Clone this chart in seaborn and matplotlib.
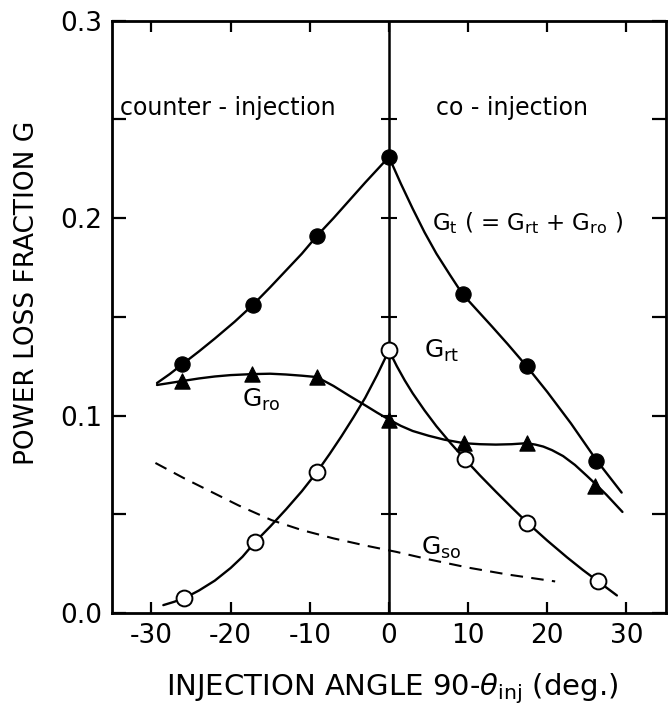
import matplotlib
matplotlib.use("Agg")
import matplotlib.pyplot as plt
import seaborn as sns

# ---- data ----
# measured points (markers)
gt_x = [-26.1, -17.2, -9.1, 0.0, 9.3, 17.4, 26.2]
gt_y = [0.126, 0.156, 0.191, 0.231, 0.1615, 0.125, 0.077]
gro_x = [-26.1, -17.3, -9.1, 0.0, 9.5, 17.4, 26.0]
gro_y = [0.1175, 0.121, 0.1195, 0.098, 0.086, 0.086, 0.0645]
grt_x = [-25.9, -16.9, -9.1, 0.0, 9.6, 17.5, 26.4]
grt_y = [0.0074, 0.036, 0.0714, 0.133, 0.078, 0.0456, 0.0162]

# hand-drawn curves (left / right branches)
gt_left_x = [-29.3, -27.7, -26.1, -24.0, -22.0, -19.5, -17.2, -15.0, -13.0,
             -11.0, -9.1, -7.0, -5.0, -3.0, -1.5, 0.0]
gt_left_y = [0.1165, 0.121, 0.126, 0.1325, 0.139, 0.1475, 0.156, 0.165,
             0.1735, 0.182, 0.191, 0.200, 0.209, 0.218, 0.2245, 0.231]
gt_right_x = [0.0, 1.5, 3.0, 4.5, 6.0, 7.7, 9.3, 11.0, 13.0, 15.0, 17.4,
              20.0, 23.0, 26.2, 29.4]
gt_right_y = [0.231, 0.2175, 0.2048, 0.1928, 0.182, 0.1713, 0.1615, 0.154,
              0.1452, 0.1362, 0.125, 0.112, 0.096, 0.0775, 0.061]
gro_curve_x = [-29.3, -28.0, -26.1, -24.0, -22.0, -20.0, -17.3, -15.0, -13.0,
               -11.0, -9.1, -7.0, -5.0, -3.0, -1.5, 0.0, 1.5, 3.0, 5.0, 7.0,
               9.5, 11.5, 13.5, 15.5, 17.4, 18.5, 19.5, 20.6, 22.0, 23.5,
               25.0, 26.0, 27.5, 29.5]
gro_curve_y = [0.1155, 0.1163, 0.1175, 0.1188, 0.1198, 0.1205, 0.121, 0.1212,
               0.1208, 0.1202, 0.1195, 0.1150, 0.1100, 0.1052, 0.1015, 0.098,
               0.0948, 0.0922, 0.0898, 0.0878, 0.086, 0.0855, 0.0853, 0.0855,
               0.086, 0.0853, 0.0843, 0.0825, 0.0795, 0.075, 0.0695, 0.0657,
               0.0598, 0.0512]
grt_left_x = [-28.5, -27.2, -25.9, -24.0, -22.0, -20.0, -18.5, -16.9, -15.0,
              -13.0, -11.0, -9.1, -7.5, -6.0, -4.5, -3.0, -1.5, 0.0]
grt_left_y = [0.004, 0.0056, 0.0074, 0.0114, 0.0164, 0.0228, 0.0285, 0.036,
              0.0438, 0.0525, 0.0617, 0.0714, 0.0805, 0.0895, 0.099, 0.109,
              0.1205, 0.133]
grt_right_x = [0.0, 1.0, 2.0, 3.0, 4.5, 6.0, 7.8, 9.6, 11.5, 13.5, 15.5, 17.5,
               20.0, 22.5, 24.5, 26.4, 28.8]
grt_right_y = [0.133, 0.125, 0.1178, 0.1113, 0.1026, 0.0946, 0.086, 0.0779,
               0.0697, 0.0615, 0.0535, 0.0457, 0.0367, 0.0282, 0.0218, 0.0161,
               0.0089]
gso_x = [-29.5, -26.0, -22.5, -19.0, -14.8, -11.0, -7.0, -3.0, 0.9, 5.0,
         10.0, 15.0, 21.0]
gso_y = [0.076, 0.0685, 0.0615, 0.0545, 0.047, 0.042, 0.0378, 0.0342, 0.031,
         0.0272, 0.023, 0.0195, 0.016]

x_ticks = [-30, -20, -10, 0, 10, 20, 30]
y_major = [0.0, 0.1, 0.2, 0.3]
y_minor = [0.05, 0.15, 0.25]
center_ticks = [0.05, 0.1, 0.15, 0.2, 0.25]

sns.set_theme(style="ticks")
plt.rcParams['font.family'] = ['DejaVu Sans Condensed', 'DejaVu Sans']
plt.rcParams['text.color'] = 'black'
plt.rcParams['axes.labelcolor'] = 'black'
plt.rcParams['xtick.color'] = 'black'
plt.rcParams['ytick.color'] = 'black'

fig = plt.figure(figsize=(6.70, 7.06), dpi=100)
ax = fig.add_axes([0.167, 0.1317, 0.827, 0.839])

lw = 1.7
k = 'black'
for cx, cy in [(gt_left_x, gt_left_y), (gt_right_x, gt_right_y),
               (gro_curve_x, gro_curve_y),
               (grt_left_x, grt_left_y), (grt_right_x, grt_right_y)]:
    sns.lineplot(x=cx, y=cy, ax=ax, color=k, lw=lw, sort=False,
                 estimator=None)
sns.lineplot(x=gso_x, y=gso_y, ax=ax, color=k, lw=1.5, sort=False,
             estimator=None, linestyle=(0, (6, 4)))

# vertical line at 0
ax.axvline(0, color=k, lw=1.8, zorder=2)
ax.plot([0] * len(center_ticks), center_ticks, ls='none', marker='_',
        ms=12, mew=1.5, color=k)

sns.scatterplot(x=gt_x, y=gt_y, ax=ax, marker='o', s=120, color=k,
                edgecolor=k, zorder=5)
sns.scatterplot(x=gro_x, y=gro_y, ax=ax, marker='^', s=120, color=k,
                edgecolor=k, zorder=5)
sns.scatterplot(x=grt_x, y=grt_y, ax=ax, marker='o', s=130, color='white',
                edgecolor=k, linewidth=1.4, zorder=6)

ax.set_xlim(-35, 35)
ax.set_ylim(0, 0.3)
ax.set_xticks(x_ticks)
ax.set_xticklabels([str(v) for v in x_ticks])
ax.set_yticks(y_major)
ax.set_yticklabels(['0.0', '0.1', '0.2', '0.3'])
ax.set_yticks(y_minor, minor=True)
ax.tick_params(axis='both', which='both', direction='in', top=True,
               right=True, width=1.6, color=k, labelcolor=k, labelsize=19,
               pad=7)
ax.tick_params(axis='x', which='major', length=8)
ax.tick_params(axis='y', which='both', length=10)
ax.tick_params(axis='x', which='minor', bottom=False, top=False)
for s in ax.spines.values():
    s.set_linewidth(2.0)
    s.set_color(k)

ax.set_xlabel(r"INJECTION ANGLE 90-$\theta_{\rm inj}$ (deg.)", fontsize=21)
ax.set_ylabel("POWER LOSS FRACTION G", fontsize=19)
ax.xaxis.set_label_coords(0.505, -0.098)
ax.yaxis.set_label_coords(-0.13, 0.54)

ax.text(-20.4, 0.256, "counter - injection", fontsize=17, ha='center',
        va='center')
ax.text(15.5, 0.256, "co - injection", fontsize=17, ha='center',
        va='center')
ax.text(5.4, 0.1975, r"G$_{\rm t}$ ( = G$_{\rm rt}$ + G$_{\rm ro}$ )",
        fontsize=16.5, ha='left', va='center')
ax.text(-16.1, 0.108, r"G$_{\rm ro}$", fontsize=18, ha='center', va='center')
ax.text(6.7, 0.133, r"G$_{\rm rt}$", fontsize=18, ha='center', va='center')
ax.text(6.6, 0.033, r"G$_{\rm so}$", fontsize=18, ha='center', va='center')

fig.savefig("out.png", dpi=100)
